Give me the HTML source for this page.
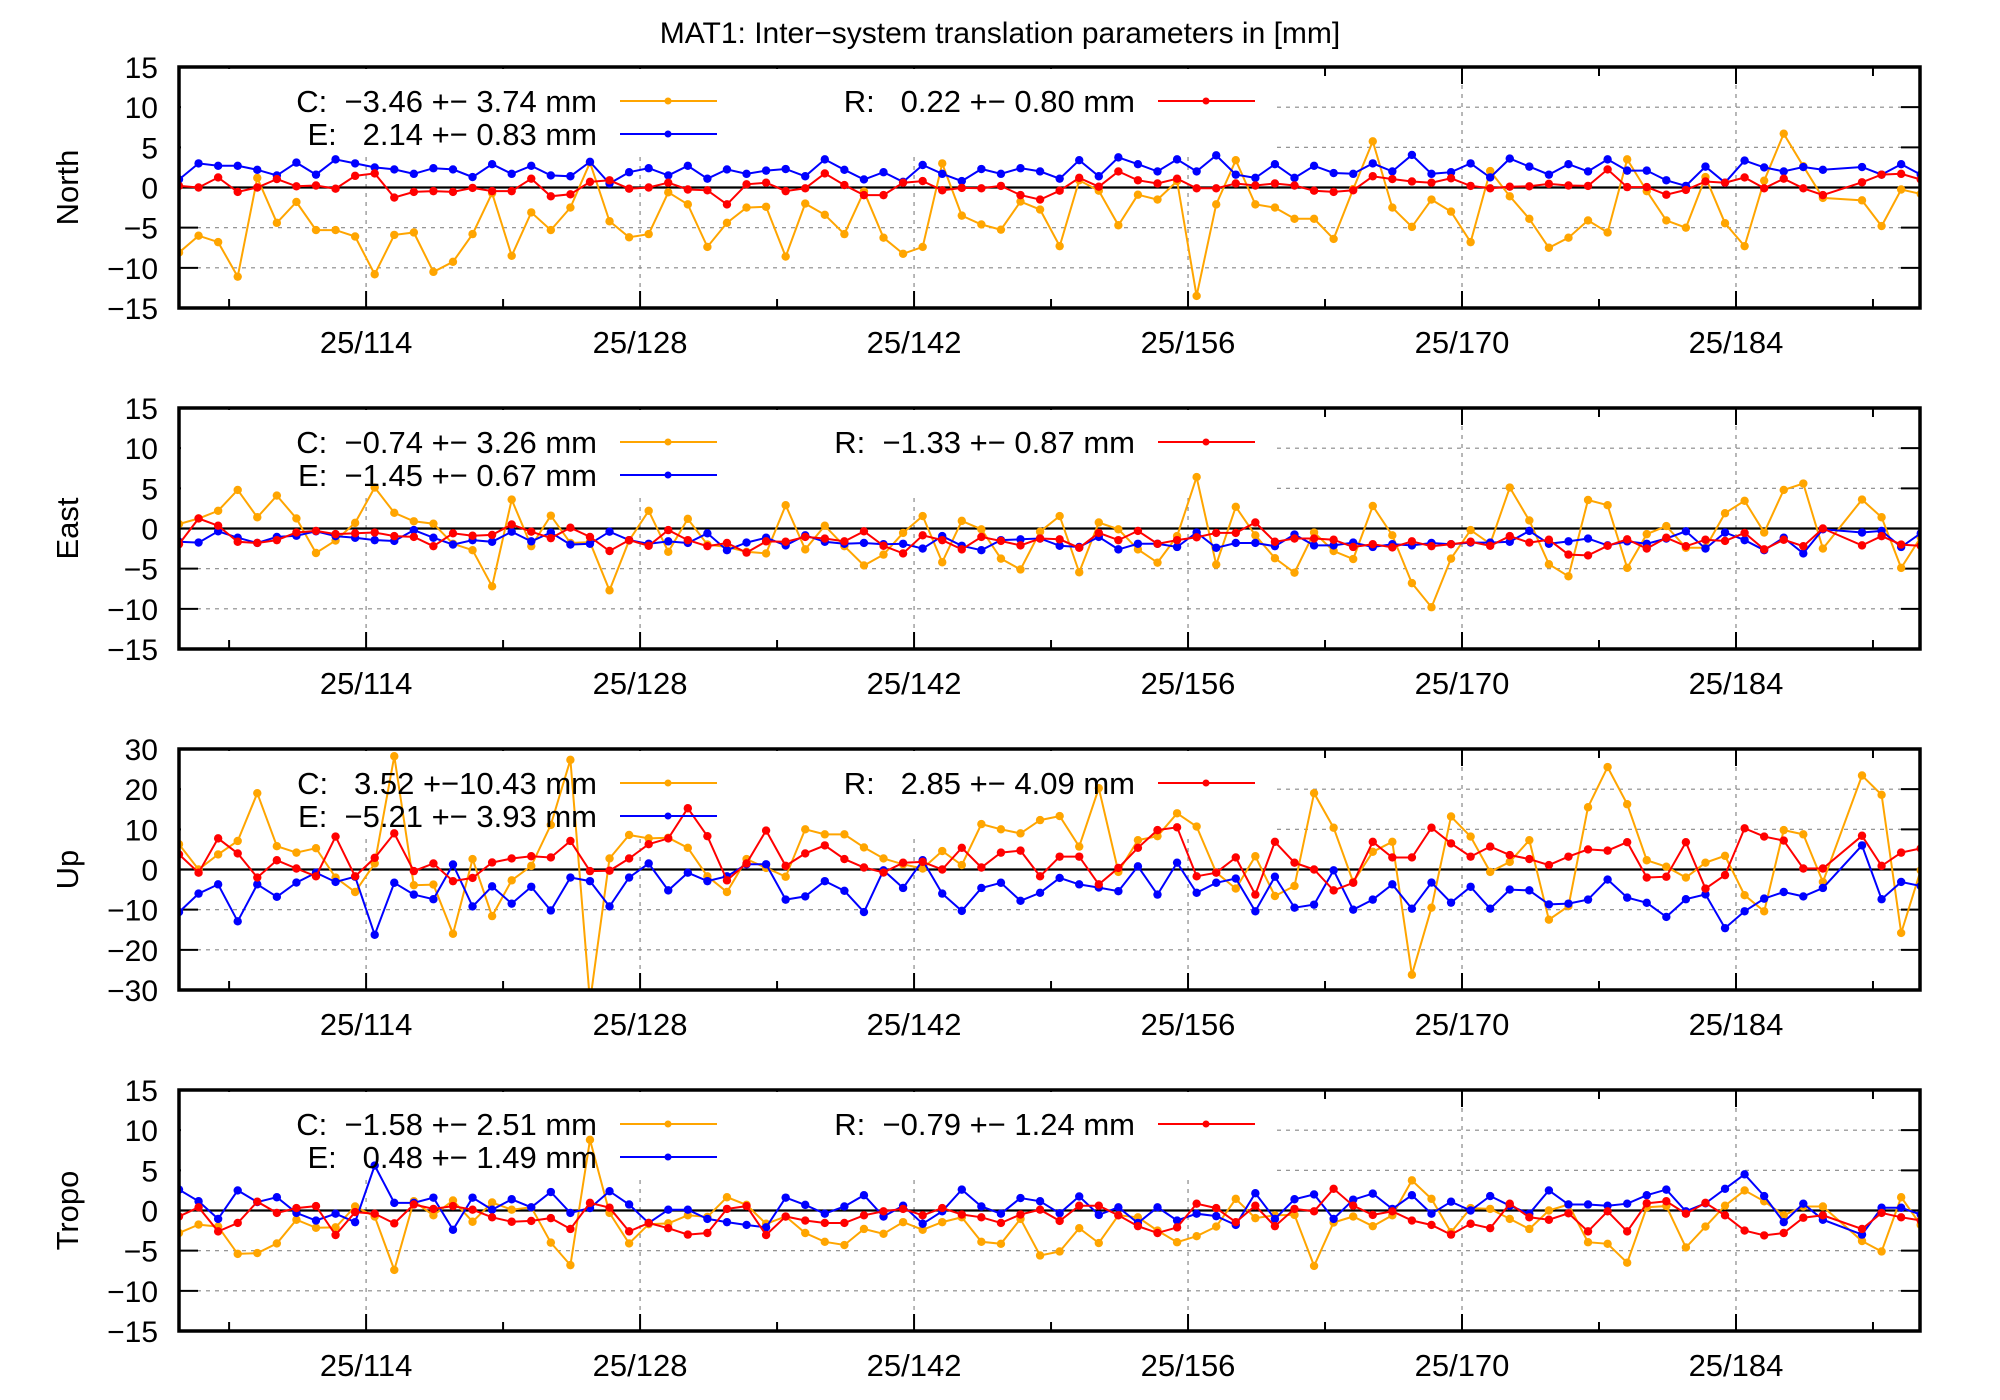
<!DOCTYPE html>
<html><head><meta charset="utf-8">
<style>
html,body{margin:0;padding:0;background:#fff;}
svg{display:block;font-family:"Liberation Sans",sans-serif;}
</style></head>
<body>
<svg id="chart" width="2000" height="1400" viewBox="0 0 2000 1400" xmlns="http://www.w3.org/2000/svg">
<rect width="2000" height="1400" fill="#fff"/>
<text x="1000" y="43" font-size="30" text-anchor="middle">MAT1: Inter−system translation parameters in [mm]</text>
</svg>
<script>
const dayTicks = [114,128,142,156,170,184];
const minorTicks = [107,121,135,149,163,177,191];
const tickLabels = ["25/114","25/128","25/142","25/156","25/170","25/184"];
const firstDay = 104.44;
const nPoints = 90;

const northC = [-8.1,-6.0,-6.8,-11.1,1.2,-4.4,-1.8,-5.3,-5.3,-6.1,-10.8,-5.9,-5.6,-10.5,-9.25,-5.8,-0.7,-8.5,-3.1,-5.3,-2.5,3.1,-4.2,-6.2,-5.8,-0.6,-2.1,-7.4,-4.4,-2.5,
-2.4,-8.6,-2.0,-3.4,-5.8,-0.5,-6.25,-8.25,-7.4,3.0,-3.5,-4.6,-5.25,-1.75,-2.75,-7.3,0.9,-0.4,-4.7,-0.9,-1.5,0.8,-13.5,-2.1,3.4,-2.1,-2.5,-3.9,-3.9,-6.4,
-0.2,5.75,-2.5,-4.9,-1.5,-3.0,-6.8,2.05,-1.1,-3.9,-7.5,-6.25,-4.1,-5.6,3.5,-0.45,-4.1,-5.0,1.3,-4.45,-7.3,0.85,6.7,2.65,-1.3,null,-1.6,-4.8,-0.25,-0.8];
const northE = [1.0,3.0,2.7,2.7,2.2,1.5,3.1,1.6,3.5,3.0,2.5,2.25,1.7,2.4,2.25,1.3,2.9,1.7,2.7,1.5,1.4,3.2,0.5,1.9,2.4,1.5,2.7,1.1,2.25,1.7,
2.1,2.3,1.4,3.5,2.2,1.0,1.9,0.7,2.8,1.7,0.8,2.3,1.7,2.4,2.0,1.1,3.4,1.4,3.75,2.9,2.0,3.5,2.0,4.0,1.6,1.2,2.9,1.2,2.7,1.8,
1.7,3.0,2.0,4.05,1.7,1.9,3.0,1.25,3.6,2.6,1.6,2.9,2.0,3.5,2.1,2.1,0.9,0.2,2.6,0.6,3.35,2.5,2.0,2.55,2.2,null,2.55,1.6,2.9,1.6];
const northR = [0.2,0,1.25,-0.55,0,1.05,0.15,0.25,-0.15,1.45,1.75,-1.25,-0.55,-0.45,-0.55,-0.05,-0.45,-0.45,1.1,-1.1,-0.85,0.7,0.9,-0.15,0,0.6,-0.25,-0.35,-2.1,0.4,
0.6,-0.45,-0.1,1.75,0.3,-0.95,-0.95,0.6,0.8,-0.35,-0.05,-0.1,0.2,-0.95,-1.5,-0.4,1.2,0.1,2.0,0.9,0.5,1.1,-0.1,-0.1,0.5,0.25,0.5,0.25,-0.4,-0.55,
-0.35,1.4,1.05,0.75,0.6,1.15,0.2,-0.1,0.1,0.15,0.45,0.25,0.2,2.25,0.05,0.05,-0.9,-0.3,0.75,0.6,1.25,-0.1,1.1,-0.1,-0.95,null,0.65,1.6,1.7,1.0];

const eastC = [0.55,1.25,2.2,4.8,1.4,4.1,1.25,-3.05,-1.5,0.7,5.1,1.95,0.9,0.6,-1.9,-2.7,-7.2,3.6,-2.2,1.6,-1.8,-1.7,-7.7,-1.5,2.2,-2.9,1.2,-2.0,-2.3,-2.9,
-3.1,2.9,-2.6,0.35,-2.2,-4.6,-3.25,-0.55,1.55,-4.2,0.95,-0.1,-3.75,-5.1,-0.4,1.55,-5.45,0.75,-0.1,-2.6,-4.25,-0.95,6.4,-4.5,2.7,-0.85,-3.7,-5.5,-0.5,-2.8,
-3.8,2.8,-0.85,-6.8,-9.8,-3.75,-0.2,-1.9,5.1,1.0,-4.45,-5.95,3.55,2.9,-4.9,-0.7,0.3,-2.4,-2.4,1.9,3.45,-0.5,4.8,5.6,-2.5,null,3.6,1.4,-4.9,-1.1];
const eastE = [-1.65,-1.75,-0.35,-1.15,-1.8,-1.05,-0.9,-0.35,-0.95,-1.15,-1.45,-1.55,-0.2,-1.15,-2.0,-1.45,-1.65,-0.4,-1.6,-0.5,-2.0,-1.9,-0.4,-1.45,-1.9,-1.6,-1.8,-0.6,-2.7,-1.75,
-1.15,-2.1,-0.85,-1.65,-1.9,-1.8,-1.95,-1.9,-2.5,-0.95,-2.15,-2.7,-1.45,-1.35,-1.25,-2.15,-2.3,-1.05,-2.6,-1.9,-1.9,-2.3,-0.5,-2.4,-1.8,-1.8,-2.2,-0.75,-2.1,-2.1,
-1.75,-2.3,-1.95,-2.1,-1.8,-1.95,-1.75,-1.75,-1.65,-0.3,-1.9,-1.6,-1.25,-2.1,-1.6,-1.9,-1.25,-0.35,-2.5,-0.5,-1.45,-2.7,-1.15,-3.1,-0.1,null,-0.5,-0.3,-2.3,-0.6];
const eastR = [-1.95,1.25,0.35,-1.65,-1.8,-1.45,-0.5,-0.3,-0.7,-0.6,-0.5,-0.95,-1.05,-2.2,-0.6,-0.9,-0.8,0.5,-0.4,-1.2,0.1,-1.05,-2.8,-1.45,-2.15,-0.2,-1.45,-2.2,-1.8,-3.0,
-1.6,-1.65,-1.05,-1.25,-1.6,-0.35,-2.15,-3.1,-0.85,-1.45,-2.6,-1.05,-1.55,-2.1,-1.25,-1.35,-2.4,-0.55,-1.45,-0.3,-1.9,-1.45,-1.1,-0.55,-0.55,0.75,-1.65,-1.25,-1.25,-1.4,
-2.3,-1.95,-2.35,-1.6,-2.2,-1.95,-1.65,-2.15,-0.95,-1.75,-1.4,-3.25,-3.35,-2.15,-1.35,-2.5,-1.15,-2.2,-1.4,-1.55,-0.55,-2.6,-1.4,-2.2,0,null,-2.1,-0.95,-2.0,-2.15];

const upC = [6.3,0,3.75,7.1,19,5.8,4.2,5.3,-2.0,-5.6,1.5,28.2,-3.9,-3.75,-16,2.6,-11.6,-2.7,0.9,11.1,27.3,-33,2.75,8.6,7.75,7.9,5.4,-1.7,-5.6,2.6,
0.4,-1.8,10,8.75,8.75,5.5,2.75,1.3,0.25,4.6,1.1,11.3,10,9,12.3,13.3,5.7,20.25,-0.6,7.3,8.3,14,10.7,-0.75,-4.75,3.3,-6.6,-4.1,19,10.4,
-3.1,4.4,6.9,-26.2,-9.5,13.2,8.2,-0.6,1.9,7.3,-12.5,-9.1,15.5,25.5,16.25,2.3,0.7,-2.0,1.7,3.4,-6.4,-10.4,9.8,8.75,-3.1,null,23.4,18.6,-15.8,-0.2];
const upE = [-10.6,-6,-3.7,-12.9,-3.7,-6.8,-3.25,-0.8,-3.1,-1.8,-16.25,-3.3,-6.25,-7.4,1.25,-9.2,-4.2,-8.5,-4.3,-10.2,-2.0,-2.9,-9.2,-2.0,1.5,-5.2,-0.8,-2.9,-1.7,1.3,
1.3,-7.5,-6.7,-2.9,-5.3,-10.6,-0.2,-4.6,2.3,-6,-10.3,-4.6,-3.3,-7.8,-5.8,-2.1,-3.7,-4.5,-5.4,0.8,-6.25,1.7,-5.8,-3.3,-2.25,-10.4,-1.8,-9.5,-8.75,-0.2,
-10,-7.5,-3.7,-9.75,-3.25,-8.25,-4.3,-9.75,-5,-5.2,-8.7,-8.5,-7.5,-2.5,-7,-8.3,-11.8,-7.4,-6.2,-14.6,-10.4,-7.25,-5.6,-6.7,-4.6,null,6,-7.4,-3.1,-4.1];
const upR = [3.75,-0.8,7.75,4.0,-2.0,2.3,0.25,-1.7,8.2,-1.7,2.9,9.0,-0.4,1.5,-2.9,-2.1,1.75,2.75,3.3,3.0,7.1,-0.4,-0.3,2.75,6.3,7.75,15.25,8.3,-2.7,1.5,
9.7,0.9,4.0,6.0,2.6,0.5,-0.75,1.7,1.9,0,5.4,0.5,4.2,4.7,-1.7,3.2,3.2,-3.7,0.4,5.4,9.8,10.5,-1.7,-0.8,3.0,-6.25,6.9,1.7,0,-5.2,
-3.3,6.9,3.0,3.0,10.4,6.5,3.2,5.7,3.6,2.6,1.1,3.2,5,4.7,6.8,-2.0,-1.8,6.8,-4.75,-1.4,10.25,8.2,7.2,0.25,0.25,null,8.4,0.9,4.2,5.25];

const tropoC = [-2.8,-1.75,-2,-5.4,-5.3,-4.1,-1.15,-2.15,-2.1,0.5,-0.75,-7.4,1.15,-0.6,1.25,-1.4,1.0,0.1,0.4,-4.0,-6.8,8.8,-0.3,-4.1,-1.7,-1.6,-0.6,-0.8,1.65,0.7,
-1.65,-0.75,-2.8,-3.9,-4.3,-2.3,-2.9,-1.45,-2.4,-1.45,-0.85,-3.9,-4.15,-1.05,-5.6,-5.1,-2.2,-4.05,-0.6,-0.85,-2.5,-3.95,-3.2,-2.0,1.45,-0.95,-0.6,-0.55,-6.9,-1.5,
-0.75,-1.95,-0.6,3.75,1.45,-2.7,0.3,0.2,-1.05,-2.3,0,0.75,-3.95,-4.15,-6.5,0.4,0.55,-4.6,-2.0,0.6,2.5,1.15,-0.6,0.5,0.5,null,-3.8,-5.1,1.65,-1.8];
const tropoE = [2.6,1.15,-1.05,2.5,1.05,1.65,-0.3,-1.25,-0.4,-1.45,5.6,0.95,0.95,1.6,-2.4,1.6,0.1,1.4,0.4,2.3,-0.3,0.3,2.4,0.75,-1.55,0.1,0.1,-1.05,-1.45,-1.8,
-2.1,1.6,0.7,-0.4,0.5,1.9,-0.75,0.6,-1.65,-0.1,2.6,0.5,-0.4,1.55,1.15,-0.35,1.75,-0.55,0.4,-1.55,0.4,-1.25,-0.4,-0.7,-1.8,2.15,-1.05,1.4,2.0,-1.05,
1.35,2.1,0.2,1.9,-0.4,1.1,0,1.8,0.6,-0.4,2.5,0.75,0.75,0.6,0.85,1.9,2.6,-0.1,0.9,2.7,4.5,1.8,-1.45,0.85,-1.15,null,-3.0,0.35,0.35,-0.5];
const tropoR = [-0.75,0.4,-2.6,-1.55,1.1,-0.3,0.3,0.55,-3.05,-0.2,-0.4,-1.6,0.75,0.2,0.55,0.1,-0.85,-1.4,-1.3,-0.95,-2.3,0.95,0.35,-2.6,-1.55,-2.2,-3.0,-2.8,0.2,0.55,
-3.05,-0.75,-1.25,-1.55,-1.55,-0.6,-0.1,0.2,-0.6,0.3,-0.5,-0.85,-1.55,-0.5,0.1,-1.3,0.6,0.6,-0.6,-1.95,-2.8,-2.1,0.85,0.3,-1.45,0.6,-1.95,0.2,-0.1,2.7,
0.6,-0.55,-0.1,-1.25,-1.8,-3.0,-1.65,-2.2,0.85,-0.85,-1.15,-0.35,-2.6,-0.1,-2.6,0.9,1.15,-0.4,0.95,-0.6,-2.5,-3.1,-2.8,-0.9,-0.6,null,-2.3,-0.3,-0.85,-1.25];

const panelNames = ["North","East","Up","Tropo"];
const panelRanges = [[-15,15,5],[-15,15,5],[-30,30,10],[-15,15,5]];
const legendC = ["C:  −3.46 +− 3.74 mm","C:  −0.74 +− 3.26 mm","C:   3.52 +−10.43 mm","C:  −1.58 +− 2.51 mm"];
const legendE = ["E:   2.14 +− 0.83 mm","E:  −1.45 +− 0.67 mm","E:  −5.21 +− 3.93 mm","E:   0.48 +− 1.49 mm"];
const legendR = ["R:   0.22 +− 0.80 mm","R:  −1.33 +− 0.87 mm","R:   2.85 +− 4.09 mm","R:  −0.79 +− 1.24 mm"];
const seriesC = [northC,eastC,upC,tropoC];
const seriesE = [northE,eastE,upE,tropoE];
const seriesR = [northR,eastR,upR,tropoR];

const NS = "http://www.w3.org/2000/svg";
const svg = document.getElementById("chart");
const L = 179, R = 1920, H = 241;
const tops = [67,408,749,1090];
const dayPx = 19.57;
function xScale(day){ return L + (day - firstDay) * dayPx; }
function mk(tag, attrs, parent){
  const e = document.createElementNS(NS, tag);
  for (const k in attrs) e.setAttribute(k, attrs[k]);
  (parent || svg).appendChild(e);
  return e;
}
const colors = {C:"#ffa500", E:"#0000ff", R:"#ff0000"};

panelNames.forEach((name, p) => {
  const top = tops[p], bot = top + H;
  const [ymin, ymax, ystep] = panelRanges[p];
  const yScale = v => bot - (v - ymin) / (ymax - ymin) * H;
  const g = mk("g", {});
  
  
  const defs = mk("defs", {}, g);
  const cp = mk("clipPath", {id: "clip" + p}, defs);
  mk("rect", {x: L, y: top, width: R - L, height: H}, cp);

  // horizontal grid + y ticks
  for (let v = ymin; v <= ymax + 1e-9; v += ystep) {
    const y = yScale(v);
    if (v !== ymin && v !== ymax && v !== 0) {
      const gl = mk("line", {x1: L, x2: R, y1: y, y2: y, stroke: "#888", "stroke-width": 1.2, "stroke-dasharray": "4,5"}, g);
      
      
    }
    mk("line", {x1: L, x2: L + 19, y1: y, y2: y, stroke: "#000", "stroke-width": 2}, g);
    mk("line", {x1: R - 19, x2: R, y1: y, y2: y, stroke: "#000", "stroke-width": 2}, g);
    const t = mk("text", {x: 158, y: y + 11, "font-size": 30, "text-anchor": "end"}, g);
    
    
    t.textContent = (v < 0 ? "−" + (-v) : String(v));
  }
  // vertical grid + x ticks
  dayTicks.forEach((d, i) => {
    const x = xScale(d);
    const vl = mk("line", {x1: x, x2: x, y1: top, y2: bot, stroke: "#888", "stroke-width": 1.2, "stroke-dasharray": "4,5"}, g);
    
    
    mk("line", {x1: x, x2: x, y1: top, y2: top + 17, stroke: "#000", "stroke-width": 2}, g);
    mk("line", {x1: x, x2: x, y1: bot - 17, y2: bot, stroke: "#000", "stroke-width": 2}, g);
    const t = mk("text", {x: x, y: bot + 45, "font-size": 31, "text-anchor": "middle"}, g);
    
    
    t.textContent = tickLabels[i];
  });
  minorTicks.forEach(d => {
    const x = xScale(d);
    mk("line", {x1: x, x2: x, y1: top, y2: top + 9, stroke: "#000", "stroke-width": 2}, g);
    mk("line", {x1: x, x2: x, y1: bot - 9, y2: bot, stroke: "#000", "stroke-width": 2}, g);
  });
  // legend box (opaque)
  mk("rect", {x: L + 2, y: top + 2, width: 1275 - L, height: 84, fill: "#fff"}, g);
  // zero line
  const z = mk("line", {x1: L, x2: R, y1: yScale(0), y2: yScale(0), stroke: "#000", "stroke-width": 2.2}, g);
  
  

  // series
  const dg = mk("g", {"clip-path": "url(#clip" + p + ")"}, g);
  [["C", seriesC[p]], ["E", seriesE[p]], ["R", seriesR[p]]].forEach(([key, arr]) => {
    const pts = [];
    arr.forEach((v, k) => { if (v !== null) pts.push([xScale(firstDay + k), yScale(v)]); });
    const line = mk("polyline", {points: pts.map(q => q[0].toFixed(1) + "," + q[1].toFixed(1)).join(" "), fill: "none", stroke: colors[key], "stroke-width": 2}, dg);
    
    
    pts.forEach(q => {
      const c = mk("circle", {cx: q[0], cy: q[1], r: 4.2, fill: colors[key]}, dg);
      
      
    });
  });

  // legend
  const legs = [[legendC[p], 597, top + 45, 620, "C"], [legendE[p], 597, top + 78, 620, "E"], [legendR[p], 1135, top + 45, 1158, "R"]];
  legs.forEach(([txt, tx, ty, lx, key]) => {
    const t = mk("text", {x: tx, y: ty, "font-size": 31, "text-anchor": "end"}, g);
    
    
    t.setAttributeNS("http://www.w3.org/XML/1998/namespace", "xml:space", "preserve");
    t.style.whiteSpace = "pre";
    t.textContent = txt;
    mk("line", {x1: lx, x2: lx + 97, y1: ty - 11, y2: ty - 11, stroke: colors[key], "stroke-width": 2}, g);
    mk("circle", {cx: lx + 48, cy: ty - 11, r: 3.5, fill: colors[key]}, g);
  });

  // border
  const b = mk("rect", {x: L, y: top, width: R - L, height: H, fill: "none", stroke: "#000", "stroke-width": 3.5}, g);
  
  

  // y axis title
  const cy = top + H / 2;
  const yt = mk("text", {x: 78, y: cy, "font-size": 31, "text-anchor": "middle", transform: "rotate(-90 78 " + cy + ")"}, g);
  
  
  yt.textContent = name;
});
</script>
</body></html>
